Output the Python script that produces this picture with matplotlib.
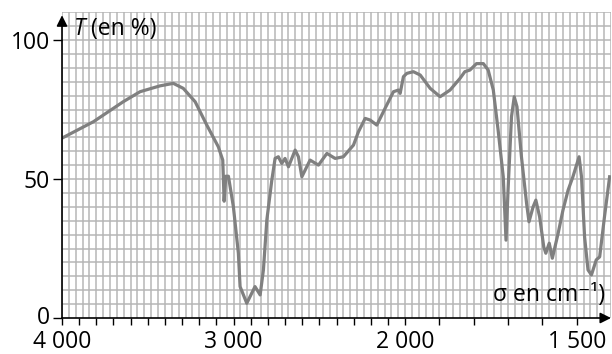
import numpy as np
import matplotlib
matplotlib.use("Agg")
import matplotlib.pyplot as plt
from matplotlib.ticker import FixedLocator, FixedFormatter

plt.rcParams['font.family'] = ['Open Sans', 'DejaVu Sans']

# IR spectrum: wavenumber (cm-1) and transmittance (%)
sigma = [4000, 3817, 3643, 3545, 3429, 3351, 3293, 3224, 3156, 3089,
         3063, 3055, 3045, 3030, 3001, 2972, 2962, 2923, 2875, 2845,
         2826, 2806, 2777, 2758, 2739, 2719, 2700, 2680, 2641, 2622,
         2602, 2554, 2505, 2456, 2408, 2360, 2301, 2272, 2233, 2204,
         2165, 2117, 2068, 2039, 2029, 2010, 1995, 1976, 1956, 1927,
         1898, 1869, 1840, 1826, 1811, 1792, 1772, 1758, 1743, 1729,
         1714, 1706, 1700, 1690, 1682, 1674, 1661, 1646, 1639, 1627,
         1619, 1608, 1596, 1590, 1580, 1571, 1554, 1540, 1525, 1511,
         1493, 1486, 1477, 1467, 1457, 1443, 1433, 1419, 1404]
trans = [64.7, 70.6, 77.8, 81.4, 83.5, 84.4, 82.6, 77.8, 69.4, 61.6,
         56.8, 42.0, 51.0, 51.0, 40.0, 23.3, 11.3, 5.3, 11.3, 8.3,
         17.3, 35.3, 49.6, 57.4, 58.0, 55.6, 57.4, 54.4, 60.4, 58.0,
         50.8, 56.8, 55.0, 59.2, 57.4, 58.0, 62.2, 67.0, 71.8, 71.2,
         69.4, 75.4, 81.4, 82.0, 80.8, 86.8, 88.0, 88.6, 87.4, 82.6,
         79.6, 82.0, 86.2, 88.6, 89.2, 91.5, 91.5, 89.2, 82.0, 67.6,
         50.8, 28.0, 46.0, 72.4, 79.6, 76.0, 58.0, 41.2, 34.6, 40.0,
         42.4, 36.4, 25.6, 23.3, 26.9, 21.5, 30.5, 38.8, 46.0, 50.8,
         58.0, 50.8, 29.2, 17.3, 15.5, 20.9, 22.0, 36.4, 50.8]

x_major = [4000, 3000, 2000, 1500]
x_labels = ['4 000', '3 000', '2 000', '1 500']
y_major = [0, 50, 100]

FS = 16.5


# scale changes at 2000 cm-1 (500 cm-1 per unit below, 1000 above)
def fwd(s):
    s = np.asarray(s, dtype=float)
    return np.where(s >= 2000, (s - 2000) / 1000, (s - 2000) / 500)


def inv(u):
    u = np.asarray(u, dtype=float)
    return np.where(u >= 0, 2000 + 1000 * u, 2000 + 500 * u)


fig = plt.figure(figsize=(6.12, 3.54), dpi=100)
ax = fig.add_axes([62 / 612, 1 - 318 / 354, 549 / 612, (318 - 12.2) / 354])
ax.set_xscale('function', functions=(fwd, inv))
ax.set_xlim(4000, 1400)
ax.set_ylim(0, 110)

# grid paper
grid_x = list(range(4000, 2000, -40)) + list(range(2000, 1399, -20))
for gx in grid_x:
    ax.axvline(gx, color='#b6b6b6', lw=1.1, zorder=0)
for gy in range(5, 111, 5):
    ax.axhline(gy, color='#b6b6b6', lw=1.1, zorder=0)

ax.plot(sigma, trans, color='#808080', lw=2.3, solid_joinstyle='round', zorder=2)

ax.xaxis.set_major_locator(FixedLocator(x_major))
ax.xaxis.set_major_formatter(FixedFormatter(x_labels))
ax.xaxis.set_minor_locator(FixedLocator([s for s in range(3900, 1400, -100) if s not in x_major]))
ax.set_yticks(y_major)
ax.tick_params(axis='x', which='both', direction='out', length=5, width=1, pad=3.8, labelsize=FS)
ax.tick_params(axis='y', direction='out', length=6.5, width=1, pad=2, labelsize=FS)
# keep the "0" label clear of the "4 000" label below it
ax.yaxis.get_major_ticks()[0].label1.set_va('center')

for side in ['top', 'right', 'left', 'bottom']:
    ax.spines[side].set_visible(False)

# axes drawn as arrows
arr = dict(arrowstyle='-|>', color='black', lw=1.2, mutation_scale=16, shrinkA=0, shrinkB=0)
ax.annotate('', xy=(0, 0.99), xytext=(0, 0), xycoords='axes fraction', arrowprops=arr, annotation_clip=False)
ax.annotate('', xy=(1.0, 0), xytext=(0, 0), xycoords='axes fraction', arrowprops=arr, annotation_clip=False)

t1 = ax.text(0.022, 0.925, 'T', style='italic', fontsize=FS, transform=ax.transAxes, va='baseline')
ax.annotate(' (en %)', xy=(1, 0), xycoords=t1, va='bottom', fontsize=FS)
ax.text(0.989, 0.056, 'σ en cm⁻¹)', fontsize=FS, transform=ax.transAxes, ha='right', va='baseline')

fig.savefig('out.png', dpi=100)
